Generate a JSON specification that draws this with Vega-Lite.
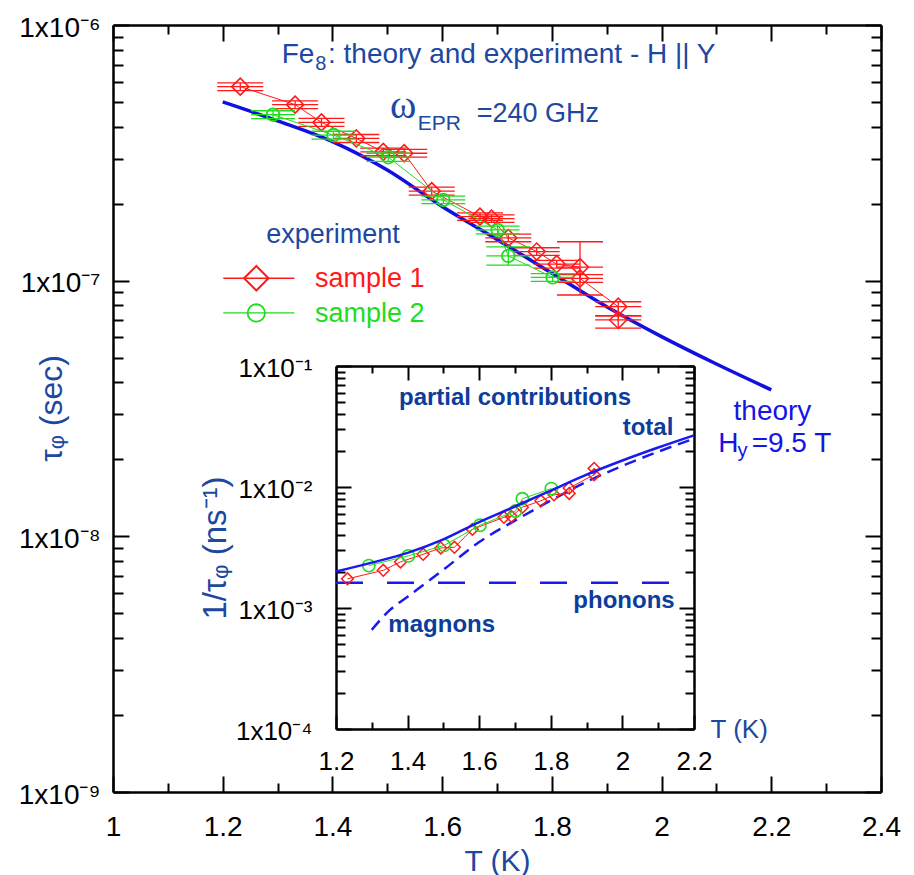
{
"$schema":"https://vega.github.io/schema/vega-lite/v6.json",
"width":768,"height":767,
"autosize":{"type":"none"},
"padding":{"left":113,"top":25,"right":33,"bottom":83},
"background":"white",
"config":{"view":{"stroke":null},"font":"Liberation Sans",
"axis":{"grid":false,"domainColor":"black","domainWidth":2.5,"tickColor":"black","tickWidth":2,"labelColor":"black","labelFont":"Liberation Sans","labelFlush":false,"labelOverlap":false,"labelBound":false,"titleFont":"Liberation Sans","titleFontWeight":"normal","titleColor":"#1c48a0","titlePadding":0}},
"datasets":{
"theory":[{"T":1.2,"tau":5.0e-7},{"T":1.3,"tau":4.22e-7},{"T":1.4,"tau":3.5e-7},{"T":1.5,"tau":2.71e-7},{"T":1.6,"tau":1.95e-7},{"T":1.7,"tau":1.45e-7},{"T":1.8,"tau":1.07e-7},{"T":1.9,"tau":7.9e-8},{"T":2.0,"tau":6.04e-8},{"T":2.1,"tau":4.72e-8},{"T":2.2,"tau":3.74e-8}],
"s1":[
{"i":1,"T":1.232,"tau":5.74e-7,"lo":5.54e-7,"hi":5.94e-7,"Tlo":1.19,"Thi":1.274},
{"i":2,"T":1.332,"tau":4.88e-7,"lo":4.71e-7,"hi":5.05e-7,"Tlo":1.29,"Thi":1.374},
{"i":3,"T":1.38,"tau":4.16e-7,"lo":4.01e-7,"hi":4.31e-7,"Tlo":1.338,"Thi":1.422},
{"i":4,"T":1.4435,"tau":3.6e-7,"lo":3.47e-7,"hi":3.73e-7,"Tlo":1.4015,"Thi":1.4855},
{"i":5,"T":1.4927,"tau":3.19e-7,"lo":3.08e-7,"hi":3.3e-7,"Tlo":1.4507,"Thi":1.5347},
{"i":6,"T":1.5308,"tau":3.15e-7,"lo":3.04e-7,"hi":3.26e-7,"Tlo":1.4888,"Thi":1.5728},
{"i":7,"T":1.581,"tau":2.24e-7,"lo":2.16e-7,"hi":2.32e-7,"Tlo":1.539,"Thi":1.623},
{"i":8,"T":1.669,"tau":1.78e-7,"lo":1.72e-7,"hi":1.84e-7,"Tlo":1.627,"Thi":1.711},
{"i":9,"T":1.69,"tau":1.75e-7,"lo":1.69e-7,"hi":1.81e-7,"Tlo":1.648,"Thi":1.732},
{"i":10,"T":1.7206,"tau":1.47e-7,"lo":1.42e-7,"hi":1.52e-7,"Tlo":1.6786,"Thi":1.7626},
{"i":11,"T":1.7723,"tau":1.3e-7,"lo":1.255e-7,"hi":1.345e-7,"Tlo":1.7303,"Thi":1.8143},
{"i":12,"T":1.8088,"tau":1.16e-7,"lo":1.12e-7,"hi":1.2e-7,"Tlo":1.7668,"Thi":1.8508},
{"i":13,"T":1.8513,"tau":1.13e-7,"lo":8.79e-8,"hi":1.42e-7,"Tlo":1.8093,"Thi":1.8933},
{"i":14,"T":1.8513,"tau":1.02e-7,"lo":9.84e-8,"hi":1.056e-7,"Tlo":1.8093,"Thi":1.8933},
{"i":15,"T":1.921,"tau":7.91e-8,"lo":7.29e-8,"hi":8.27e-8,"Tlo":1.879,"Thi":1.963},
{"i":16,"T":1.921,"tau":7.02e-8,"lo":6.52e-8,"hi":7.29e-8,"Tlo":1.879,"Thi":1.963}],
"s2":[
{"i":1,"T":1.2917,"tau":4.46e-7,"lo":4.3e-7,"hi":4.62e-7,"Tlo":1.2517,"Thi":1.3317},
{"i":2,"T":1.4019,"tau":3.71e-7,"lo":3.58e-7,"hi":3.84e-7,"Tlo":1.3619,"Thi":1.4419},
{"i":3,"T":1.5018,"tau":3.04e-7,"lo":2.93e-7,"hi":3.15e-7,"Tlo":1.4618,"Thi":1.5418},
{"i":4,"T":1.6021,"tau":2.07e-7,"lo":2.0e-7,"hi":2.14e-7,"Tlo":1.5621,"Thi":1.6421},
{"i":5,"T":1.7012,"tau":1.58e-7,"lo":1.525e-7,"hi":1.635e-7,"Tlo":1.6612,"Thi":1.7412},
{"i":6,"T":1.7206,"tau":1.25e-7,"lo":1.15e-7,"hi":1.355e-7,"Tlo":1.6806,"Thi":1.7606},
{"i":7,"T":1.8015,"tau":1.03e-7,"lo":9.94e-8,"hi":1.066e-7,"Tlo":1.7615,"Thi":1.8415}],
"tot":[{"T":1.2,"rate":0.002},{"T":1.3,"rate":0.00237},{"T":1.4,"rate":0.002857},{"T":1.5,"rate":0.00369},{"T":1.6,"rate":0.00513},{"T":1.7,"rate":0.0069},{"T":1.8,"rate":0.00935},{"T":1.9,"rate":0.01266},{"T":2.0,"rate":0.01656},{"T":2.1,"rate":0.0212},{"T":2.2,"rate":0.02674}],
"mag":[{"T":1.3,"rate":0.00066},{"T":1.35,"rate":0.00096},{"T":1.4,"rate":0.00124},{"T":1.5,"rate":0.00207},{"T":1.6,"rate":0.00351},{"T":1.7,"rate":0.00528},{"T":1.8,"rate":0.00773},{"T":1.9,"rate":0.01104},{"T":2.0,"rate":0.01494},{"T":2.1,"rate":0.01958},{"T":2.2,"rate":0.0251}],
"pho":[{"T":1.2,"rate":0.00162},{"T":2.2,"rate":0.00162}],
"s1i":[{"i":1,"T":1.232,"rate":0.001742},{"i":2,"T":1.332,"rate":0.002049},{"i":3,"T":1.38,"rate":0.002404},{"i":4,"T":1.4435,"rate":0.002778},{"i":5,"T":1.4927,"rate":0.003135},{"i":6,"T":1.5308,"rate":0.003175},{"i":7,"T":1.581,"rate":0.004464},{"i":8,"T":1.669,"rate":0.005618},{"i":9,"T":1.69,"rate":0.005714},{"i":10,"T":1.7206,"rate":0.006803},{"i":11,"T":1.7723,"rate":0.007692},{"i":12,"T":1.8088,"rate":0.008621},{"i":13,"T":1.8513,"rate":0.00885},{"i":14,"T":1.8513,"rate":0.0098},{"i":15,"T":1.921,"rate":0.01264},{"i":16,"T":1.921,"rate":0.01425}],
"s2i":[{"i":1,"T":1.2917,"rate":0.002242},{"i":2,"T":1.4019,"rate":0.002695},{"i":3,"T":1.5018,"rate":0.003289},{"i":4,"T":1.6021,"rate":0.004831},{"i":5,"T":1.7012,"rate":0.006329},{"i":6,"T":1.7206,"rate":0.008},{"i":7,"T":1.8015,"rate":0.009709}]
},
"resolve":{"scale":{"x":"independent","y":"independent"}},
"layer":[
{"layer":[
 {"data":{"name":"theory"},"mark":{"type":"line","color":"#1010e0","strokeWidth":3.5,"interpolate":"monotone"},
  "encoding":{
   "x":{"field":"T","type":"quantitative","scale":{"domain":[1,2.4],"nice":false,"zero":false},
    "axis":{"orient":"bottom","values":[1,1.1,1.2,1.3,1.4,1.5,1.6,1.7,1.8,1.9,2,2.1,2.2,2.3,2.4],
     "tickSize":{"condition":{"test":"abs(datum.value*5-round(datum.value*5))<0.01","value":-16},"value":-9},
     "labelExpr":"abs(datum.value*5-round(datum.value*5))<0.01 ? '' + round(datum.value*10)/10 : ''",
     "labelFontSize":28,"labelPadding":37,
     "title":"T (K)","titleFontSize":30,"titleX":384,"titleY":78,"titleAlign":"center","titleBaseline":"alphabetic"}},
   "y":{"field":"tau","type":"quantitative","scale":{"type":"log","domain":[1e-9,1e-6],"nice":false},
    "axis":{"orient":"left","values":[1e-9,2e-9,3e-9,4e-9,5e-9,6e-9,7e-9,8e-9,9e-9,1e-8,2e-8,3e-8,4e-8,5e-8,6e-8,7e-8,8e-8,9e-8,1e-7,2e-7,3e-7,4e-7,5e-7,6e-7,7e-7,8e-7,9e-7,1e-6],
     "tickSize":{"condition":{"test":"abs(log(datum.value)/LN10-round(log(datum.value)/LN10))<0.001","value":-16},"value":-10},
     "labelExpr":"abs(log(datum.value)/LN10-round(log(datum.value)/LN10))<0.001 ? '1x10' + ['⁻⁹','⁻⁸','⁻⁷','⁻⁶'][round(log(datum.value)/LN10)+9] : ''",
     "labelFontSize":28,"labelPadding":29,"labelBaseline":"middle","labelOffset":3,
     "title":"τᵩ (sec)","titleFontSize":32,"titleX":-62,"titleY":383,"titleAngle":-90,"titleAlign":"center","titleBaseline":"middle"}}}},
 {"data":{"name":"s1"},"mark":{"type":"line","color":"#ff1a1a","strokeWidth":1},
  "encoding":{"x":{"field":"T","type":"quantitative","scale":{"domain":[1,2.4],"nice":false,"zero":false}},"y":{"field":"tau","type":"quantitative","scale":{"type":"log","domain":[1e-9,1e-6],"nice":false}},"order":{"field":"i"}}},
 {"data":{"name":"s1"},"mark":{"type":"rule","color":"#ff1a1a","strokeWidth":1.3},
  "encoding":{"x":{"field":"Tlo","type":"quantitative","scale":{"domain":[1,2.4],"nice":false,"zero":false}},"x2":{"field":"Thi"},"y":{"field":"tau","type":"quantitative","scale":{"type":"log","domain":[1e-9,1e-6],"nice":false}}}},
 {"data":{"name":"s1"},"mark":{"type":"rule","color":"#ff1a1a","strokeWidth":1.3},
  "encoding":{"x":{"field":"Tlo","type":"quantitative","scale":{"domain":[1,2.4],"nice":false,"zero":false}},"x2":{"field":"Thi"},"y":{"field":"lo","type":"quantitative","scale":{"type":"log","domain":[1e-9,1e-6],"nice":false}}}},
 {"data":{"name":"s1"},"mark":{"type":"rule","color":"#ff1a1a","strokeWidth":1.3},
  "encoding":{"x":{"field":"Tlo","type":"quantitative","scale":{"domain":[1,2.4],"nice":false,"zero":false}},"x2":{"field":"Thi"},"y":{"field":"hi","type":"quantitative","scale":{"type":"log","domain":[1e-9,1e-6],"nice":false}}}},
 {"data":{"name":"s1"},"mark":{"type":"rule","color":"#ff1a1a","strokeWidth":1.3},
  "encoding":{"x":{"field":"T","type":"quantitative","scale":{"domain":[1,2.4],"nice":false,"zero":false}},"y":{"field":"lo","type":"quantitative","scale":{"type":"log","domain":[1e-9,1e-6],"nice":false}},"y2":{"field":"hi"}}},
 {"data":{"name":"s1"},"mark":{"type":"point","shape":"diamond","filled":false,"color":"#ff1a1a","size":290,"strokeWidth":1.6,"opacity":1},
  "encoding":{"x":{"field":"T","type":"quantitative","scale":{"domain":[1,2.4],"nice":false,"zero":false}},"y":{"field":"tau","type":"quantitative","scale":{"type":"log","domain":[1e-9,1e-6],"nice":false}}}},
 {"data":{"name":"s2"},"mark":{"type":"line","color":"#1fdc1f","strokeWidth":1},
  "encoding":{"x":{"field":"T","type":"quantitative","scale":{"domain":[1,2.4],"nice":false,"zero":false}},"y":{"field":"tau","type":"quantitative","scale":{"type":"log","domain":[1e-9,1e-6],"nice":false}},"order":{"field":"i"}}},
 {"data":{"name":"s2"},"mark":{"type":"rule","color":"#1fdc1f","strokeWidth":1.3},
  "encoding":{"x":{"field":"Tlo","type":"quantitative","scale":{"domain":[1,2.4],"nice":false,"zero":false}},"x2":{"field":"Thi"},"y":{"field":"tau","type":"quantitative","scale":{"type":"log","domain":[1e-9,1e-6],"nice":false}}}},
 {"data":{"name":"s2"},"mark":{"type":"rule","color":"#1fdc1f","strokeWidth":1.3},
  "encoding":{"x":{"field":"Tlo","type":"quantitative","scale":{"domain":[1,2.4],"nice":false,"zero":false}},"x2":{"field":"Thi"},"y":{"field":"lo","type":"quantitative","scale":{"type":"log","domain":[1e-9,1e-6],"nice":false}}}},
 {"data":{"name":"s2"},"mark":{"type":"rule","color":"#1fdc1f","strokeWidth":1.3},
  "encoding":{"x":{"field":"Tlo","type":"quantitative","scale":{"domain":[1,2.4],"nice":false,"zero":false}},"x2":{"field":"Thi"},"y":{"field":"hi","type":"quantitative","scale":{"type":"log","domain":[1e-9,1e-6],"nice":false}}}},
 {"data":{"name":"s2"},"mark":{"type":"rule","color":"#1fdc1f","strokeWidth":1.3},
  "encoding":{"x":{"field":"T","type":"quantitative","scale":{"domain":[1,2.4],"nice":false,"zero":false}},"y":{"field":"lo","type":"quantitative","scale":{"type":"log","domain":[1e-9,1e-6],"nice":false}},"y2":{"field":"hi"}}},
 {"data":{"name":"s2"},"mark":{"type":"point","shape":"circle","filled":false,"color":"#1fdc1f","size":160,"strokeWidth":1.8,"opacity":1},
  "encoding":{"x":{"field":"T","type":"quantitative","scale":{"domain":[1,2.4],"nice":false,"zero":false}},"y":{"field":"tau","type":"quantitative","scale":{"type":"log","domain":[1e-9,1e-6],"nice":false}}}},
 {"data":{"values":[{"Ta":1.201,"Tb":1.3306,"tau":1.022e-7,"s":"sample 1"},{"Ta":1.201,"Tb":1.3306,"tau":7.48e-8,"s":"sample 2"}]},"mark":{"type":"rule","strokeWidth":1.3},
  "encoding":{"x":{"field":"Ta","type":"quantitative","scale":{"domain":[1,2.4],"nice":false,"zero":false}},"x2":{"field":"Tb"},"y":{"field":"tau","type":"quantitative","scale":{"type":"log","domain":[1e-9,1e-6],"nice":false}},
   "color":{"field":"s","type":"nominal","scale":{"domain":["sample 1","sample 2"],"range":["#ff1a1a","#1fdc1f"]},"legend":null}}},
 {"data":{"values":[{"T":1.2612,"tau":1.022e-7}]},"mark":{"type":"point","shape":"diamond","filled":false,"color":"#ff1a1a","size":600,"strokeWidth":2,"opacity":1},
  "encoding":{"x":{"field":"T","type":"quantitative","scale":{"domain":[1,2.4],"nice":false,"zero":false}},"y":{"field":"tau","type":"quantitative","scale":{"type":"log","domain":[1e-9,1e-6],"nice":false}}}},
 {"data":{"values":[{"T":1.2612,"tau":7.48e-8}]},"mark":{"type":"point","shape":"circle","filled":false,"color":"#1fdc1f","size":300,"strokeWidth":1.8,"opacity":1},
  "encoding":{"x":{"field":"T","type":"quantitative","scale":{"domain":[1,2.4],"nice":false,"zero":false}},"y":{"field":"tau","type":"quantitative","scale":{"type":"log","domain":[1e-9,1e-6],"nice":false}}}},
 {"data":{"values":[{"txt":"Fe","T":1.3075,"tau":7.1e-7},{"txt":": theory and experiment - H || Y","T":1.3919,"tau":7.1e-7}]},"mark":{"type":"text","font":"Liberation Sans","fontSize":28,"color":"#1c48a0","align":"left","baseline":"alphabetic"},
  "encoding":{"x":{"field":"T","type":"quantitative","scale":{"domain":[1,2.4],"nice":false,"zero":false}},"y":{"field":"tau","type":"quantitative","scale":{"type":"log","domain":[1e-9,1e-6],"nice":false}},"text":{"field":"txt"}}},
 {"data":{"values":[{"txt":"8","T":1.3685,"tau":6.67e-7}]},"mark":{"type":"text","font":"Liberation Sans","fontSize":20,"color":"#1c48a0","align":"left","baseline":"alphabetic"},
  "encoding":{"x":{"field":"T","type":"quantitative","scale":{"domain":[1,2.4],"nice":false,"zero":false}},"y":{"field":"tau","type":"quantitative","scale":{"type":"log","domain":[1e-9,1e-6],"nice":false}},"text":{"field":"txt"}}},
 {"data":{"values":[{"txt":"experiment","T":1.401,"tau":1.4e-7}]},"mark":{"type":"text","font":"Liberation Sans","fontSize":27,"color":"#1c48a0","align":"center","baseline":"alphabetic"},
  "encoding":{"x":{"field":"T","type":"quantitative","scale":{"domain":[1,2.4],"nice":false,"zero":false}},"y":{"field":"tau","type":"quantitative","scale":{"type":"log","domain":[1e-9,1e-6],"nice":false}},"text":{"field":"txt"}}},
 {"data":{"values":[{"txt":"ω","T":1.5049,"tau":4.33e-7}]},"mark":{"type":"text","font":"Liberation Serif","fontSize":40,"color":"#1c48a0","align":"left","baseline":"alphabetic"},
  "encoding":{"x":{"field":"T","type":"quantitative","scale":{"domain":[1,2.4],"nice":false,"zero":false}},"y":{"field":"tau","type":"quantitative","scale":{"type":"log","domain":[1e-9,1e-6],"nice":false}},"text":{"field":"txt"}}},
 {"data":{"values":[{"txt":"EPR","T":1.5556,"tau":3.89e-7}]},"mark":{"type":"text","font":"Liberation Sans","fontSize":21,"color":"#1c48a0","align":"left","baseline":"alphabetic"},
  "encoding":{"x":{"field":"T","type":"quantitative","scale":{"domain":[1,2.4],"nice":false,"zero":false}},"y":{"field":"tau","type":"quantitative","scale":{"type":"log","domain":[1e-9,1e-6],"nice":false}},"text":{"field":"txt"}}},
 {"data":{"values":[{"txt":"=240 GHz","T":1.663,"tau":4.18e-7}]},"mark":{"type":"text","font":"Liberation Sans","fontSize":27,"color":"#1c48a0","align":"left","baseline":"alphabetic"},
  "encoding":{"x":{"field":"T","type":"quantitative","scale":{"domain":[1,2.4],"nice":false,"zero":false}},"y":{"field":"tau","type":"quantitative","scale":{"type":"log","domain":[1e-9,1e-6],"nice":false}},"text":{"field":"txt"}}},
 {"data":{"values":[{"txt":"sample 1","T":1.3682,"tau":9.47e-8,"s":"sample 1"},{"txt":"sample 2","T":1.3682,"tau":6.89e-8,"s":"sample 2"}]},"mark":{"type":"text","font":"Liberation Sans","fontSize":27,"align":"left","baseline":"alphabetic"},
  "encoding":{"x":{"field":"T","type":"quantitative","scale":{"domain":[1,2.4],"nice":false,"zero":false}},"y":{"field":"tau","type":"quantitative","scale":{"type":"log","domain":[1e-9,1e-6],"nice":false}},"text":{"field":"txt"},
   "color":{"field":"s","type":"nominal","scale":{"domain":["sample 1","sample 2"],"range":["#ff1a1a","#1fdc1f"]},"legend":null}}},
 {"data":{"values":[{"txt":"theory","T":2.2021,"tau":2.85e-8}]},"mark":{"type":"text","font":"Liberation Sans","fontSize":28,"color":"#1515e6","align":"center","baseline":"alphabetic"},
  "encoding":{"x":{"field":"T","type":"quantitative","scale":{"domain":[1,2.4],"nice":false,"zero":false}},"y":{"field":"tau","type":"quantitative","scale":{"type":"log","domain":[1e-9,1e-6],"nice":false}},"text":{"field":"txt"}}},
 {"data":{"values":[{"txt":"H","T":2.1034,"tau":2.145e-8},{"txt":"=9.5 T","T":2.1642,"tau":2.145e-8}]},"mark":{"type":"text","font":"Liberation Sans","fontSize":28,"color":"#1515e6","align":"left","baseline":"alphabetic"},
  "encoding":{"x":{"field":"T","type":"quantitative","scale":{"domain":[1,2.4],"nice":false,"zero":false}},"y":{"field":"tau","type":"quantitative","scale":{"type":"log","domain":[1e-9,1e-6],"nice":false}},"text":{"field":"txt"}}},
 {"data":{"values":[{"txt":"y","T":2.1383,"tau":2.04e-8}]},"mark":{"type":"text","font":"Liberation Sans","fontSize":20,"color":"#1515e6","align":"left","baseline":"alphabetic"},
  "encoding":{"x":{"field":"T","type":"quantitative","scale":{"domain":[1,2.4],"nice":false,"zero":false}},"y":{"field":"tau","type":"quantitative","scale":{"type":"log","domain":[1e-9,1e-6],"nice":false}},"text":{"field":"txt"}}}
]},
{"data":{"name":"theory"},"mark":{"type":"point","opacity":0},
 "encoding":{
  "x":{"field":"T","type":"quantitative","scale":{"domain":[1,2.4],"nice":false,"zero":false},
   "axis":{"orient":"top","values":[1,1.1,1.2,1.3,1.4,1.5,1.6,1.7,1.8,1.9,2,2.1,2.2,2.3,2.4],"labels":false,"title":null,
    "tickSize":{"condition":{"test":"abs(datum.value*5-round(datum.value*5))<0.01","value":-16},"value":-9}}},
  "y":{"field":"tau","type":"quantitative","scale":{"type":"log","domain":[1e-9,1e-6],"nice":false},
   "axis":{"orient":"right","values":[1e-9,2e-9,3e-9,4e-9,5e-9,6e-9,7e-9,8e-9,9e-9,1e-8,2e-8,3e-8,4e-8,5e-8,6e-8,7e-8,8e-8,9e-8,1e-7,2e-7,3e-7,4e-7,5e-7,6e-7,7e-7,8e-7,9e-7,1e-6],"labels":false,"title":null,
    "tickSize":{"condition":{"test":"abs(log(datum.value)/LN10-round(log(datum.value)/LN10))<0.001","value":-16},"value":-10}}}}},
{"layer":[
 {"data":{"name":"pho"},"mark":{"type":"line","color":"#1a1aee","strokeWidth":2.5,"strokeDash":[27,24]},
  "encoding":{
   "x":{"field":"T","type":"quantitative","scale":{"domain":[1.2,2.2],"range":[223,581],"nice":false,"zero":false},
    "axis":{"orient":"bottom","offset":-63,"values":[1.2,1.3,1.4,1.5,1.6,1.7,1.8,1.9,2,2.1,2.2],
     "tickSize":{"condition":{"test":"abs(datum.value*5-round(datum.value*5))<0.01","value":-14},"value":-7},
     "labelExpr":"abs(datum.value*5-round(datum.value*5))<0.01 ? '' + round(datum.value*10)/10 : ''",
     "labelFontSize":26,"labelPadding":33,
     "title":"T (K)","titleFontSize":26,"titleX":597,"titleY":8,"titleAlign":"left","titleBaseline":"alphabetic"}},
   "y":{"field":"rate","type":"quantitative","scale":{"type":"log","domain":[0.0001,0.1],"range":[704,341],"nice":false},
    "axis":{"orient":"left","offset":-223,"values":[0.0001,0.0002,0.0003,0.0004,0.0005,0.0006,0.0007,0.0008,0.0009,0.001,0.002,0.003,0.004,0.005,0.006,0.007,0.008,0.009,0.01,0.02,0.03,0.04,0.05,0.06,0.07,0.08,0.09,0.1],
     "tickSize":{"condition":{"test":"abs(log(datum.value)/LN10-round(log(datum.value)/LN10))<0.001","value":-15},"value":-9},
     "labelExpr":"abs(log(datum.value)/LN10-round(log(datum.value)/LN10))<0.001 ? '1x10' + ['⁻⁴','⁻³','⁻²','⁻¹'][round(log(datum.value)/LN10)+4] : ''",
     "labelFontSize":26,"labelPadding":39,"labelBaseline":"middle","labelOffset":2,
     "title":"1/τᵩ (ns⁻¹)","titleFontSize":33,"titleX":-121,"titleY":522.5,"titleAngle":-90,"titleAlign":"center","titleBaseline":"middle"}}}},
 {"data":{"name":"mag"},"mark":{"type":"line","color":"#1a1aee","strokeWidth":2.5,"strokeDash":[12,7],"interpolate":"monotone"},
  "encoding":{"x":{"field":"T","type":"quantitative","scale":{"domain":[1.2,2.2],"range":[223,581],"nice":false,"zero":false}},"y":{"field":"rate","type":"quantitative","scale":{"type":"log","domain":[0.0001,0.1],"range":[704,341],"nice":false}}}},
 {"data":{"name":"s1i"},"mark":{"type":"line","color":"#ff1a1a","strokeWidth":1},
  "encoding":{"x":{"field":"T","type":"quantitative","scale":{"domain":[1.2,2.2],"range":[223,581],"nice":false,"zero":false}},"y":{"field":"rate","type":"quantitative","scale":{"type":"log","domain":[0.0001,0.1],"range":[704,341],"nice":false}},"order":{"field":"i"}}},
 {"data":{"name":"s1i"},"mark":{"type":"point","shape":"diamond","filled":false,"color":"#ff1a1a","size":140,"strokeWidth":1.5,"opacity":1},
  "encoding":{"x":{"field":"T","type":"quantitative","scale":{"domain":[1.2,2.2],"range":[223,581],"nice":false,"zero":false}},"y":{"field":"rate","type":"quantitative","scale":{"type":"log","domain":[0.0001,0.1],"range":[704,341],"nice":false}}}},
 {"data":{"name":"s2i"},"mark":{"type":"line","color":"#1fdc1f","strokeWidth":1},
  "encoding":{"x":{"field":"T","type":"quantitative","scale":{"domain":[1.2,2.2],"range":[223,581],"nice":false,"zero":false}},"y":{"field":"rate","type":"quantitative","scale":{"type":"log","domain":[0.0001,0.1],"range":[704,341],"nice":false}},"order":{"field":"i"}}},
 {"data":{"name":"s2i"},"mark":{"type":"point","shape":"circle","filled":false,"color":"#1fdc1f","size":150,"strokeWidth":1.6,"opacity":1},
  "encoding":{"x":{"field":"T","type":"quantitative","scale":{"domain":[1.2,2.2],"range":[223,581],"nice":false,"zero":false}},"y":{"field":"rate","type":"quantitative","scale":{"type":"log","domain":[0.0001,0.1],"range":[704,341],"nice":false}}}},
 {"data":{"name":"tot"},"mark":{"type":"line","color":"#1a1aee","strokeWidth":2.5,"interpolate":"monotone"},
  "encoding":{"x":{"field":"T","type":"quantitative","scale":{"domain":[1.2,2.2],"range":[223,581],"nice":false,"zero":false}},"y":{"field":"rate","type":"quantitative","scale":{"type":"log","domain":[0.0001,0.1],"range":[704,341],"nice":false}}}},
 {"data":{"values":[{"txt":"partial contributions","T":1.7,"rate":0.0477},{"txt":"total","T":2.0715,"rate":0.0269},{"txt":"magnons","T":1.4953,"rate":0.000637},{"txt":"phonons","T":2.0045,"rate":0.000994}]},
  "mark":{"type":"text","font":"Liberation Sans","fontSize":24,"fontWeight":"bold","color":"#0c3c9c","align":"center","baseline":"alphabetic"},
  "encoding":{"x":{"field":"T","type":"quantitative","scale":{"domain":[1.2,2.2],"range":[223,581],"nice":false,"zero":false}},"y":{"field":"rate","type":"quantitative","scale":{"type":"log","domain":[0.0001,0.1],"range":[704,341],"nice":false}},"text":{"field":"txt"}}}
]},
{"data":{"name":"tot"},"mark":{"type":"point","opacity":0},
 "encoding":{
  "x":{"field":"T","type":"quantitative","scale":{"domain":[1.2,2.2],"range":[223,581],"nice":false,"zero":false},
   "axis":{"orient":"top","offset":-341,"values":[1.2,1.3,1.4,1.5,1.6,1.7,1.8,1.9,2,2.1,2.2],"labels":false,"title":null,
    "tickSize":{"condition":{"test":"abs(datum.value*5-round(datum.value*5))<0.01","value":-14},"value":-7}}},
  "y":{"field":"rate","type":"quantitative","scale":{"type":"log","domain":[0.0001,0.1],"range":[704,341],"nice":false},
   "axis":{"orient":"right","offset":-187,"values":[0.0001,0.0002,0.0003,0.0004,0.0005,0.0006,0.0007,0.0008,0.0009,0.001,0.002,0.003,0.004,0.005,0.006,0.007,0.008,0.009,0.01,0.02,0.03,0.04,0.05,0.06,0.07,0.08,0.09,0.1],"labels":false,"title":null,
    "tickSize":{"condition":{"test":"abs(log(datum.value)/LN10-round(log(datum.value)/LN10))<0.001","value":-15},"value":-9}}}}}
]
}
